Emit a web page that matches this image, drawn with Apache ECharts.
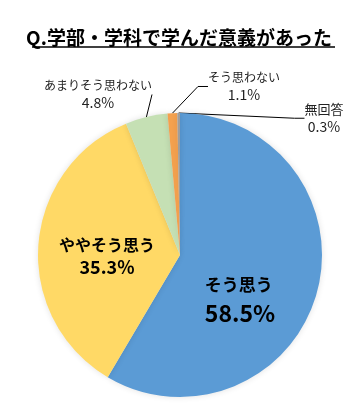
<!DOCTYPE html>
<html><head><meta charset="utf-8">
<script src="https://cdn.jsdelivr.net/npm/echarts@6/dist/echarts.min.js"></script>
<style>html,body{margin:0;padding:0;background:#fff}#c{width:358px;height:407px}</style>
</head><body><div id="c"></div>
<script>
const titleText = 'Q.学部・学科で学んだ意義があった';
const categories = ['そう思う', 'ややそう思う', 'あまりそう思わない', 'そう思わない', '無回答'];
const values = [58.5, 35.3, 4.8, 1.1, 0.3];
const colors = ['#5B9BD5', '#FFD966', '#C5E0B4', '#F4A14E', '#9E9E9E'];

const FONT = '"Noto Sans CJK JP", "Noto Sans", sans-serif';
// label anchor positions (center of label block)
const labelPos = [[240, 299], [107, 256], [98, 94], [244, 86], [324, 118]];

const chart = echarts.init(document.getElementById('c'), null, {renderer: 'canvas'});
const data = categories.map((n, i) => {
  const inside = i < 2;
  return {
    name: n, value: values[i],
    itemStyle: {color: colors[i]},
    label: inside ? {
      formatter: p => '{n|' + p.name + '}\n{v|' + p.value.toFixed(1) + '%}',
      rich: i === 0 ? {
        n: {fontSize: 17, fontWeight: 'bold', color: '#000', fontFamily: FONT, lineHeight: 29, align: 'left'},
        v: {fontSize: 23, fontWeight: 'bold', color: '#000', fontFamily: FONT, lineHeight: 29, align: 'left'}
      } : {
        n: {fontSize: 16, fontWeight: 'bold', color: '#000', fontFamily: FONT, lineHeight: 23},
        v: {fontSize: 18, fontWeight: 'bold', color: '#000', fontFamily: FONT, lineHeight: 23}
      }
    } : {
      formatter: p => '{n|' + p.name + '}\n{v|' + p.value.toFixed(1) + '%}',
      rich: {
        n: {fontSize: i === 4 ? 13 : 12, color: '#222', fontFamily: FONT, lineHeight: 18},
        v: {fontSize: 14, color: '#222', fontFamily: FONT, lineHeight: 18}
      }
    },
    labelLine: {show: !inside, lineStyle: {color: '#000', width: 1}}
  };
});

chart.setOption({
  animation: false,
  title: {
    text: titleText, left: 'center', top: 23,
    textStyle: {fontSize: 19, fontWeight: 'bold', color: '#000', fontFamily: FONT}
  },
  graphic: [{
    type: 'line', shape: {x1: 32, y1: 47, x2: 335, y2: 47},
    style: {stroke: '#000', lineWidth: 1.5}
  }],
  series: [{
    type: 'pie',
    center: [180, 255],
    radius: 142,
    startAngle: 90,
    clockwise: true,
    avoidLabelOverlap: false,
    itemStyle: {borderWidth: 0, shadowBlur: 6, shadowColor: 'rgba(0,0,0,0.12)'},
    label: {show: true, position: 'outside'},
    labelLine: {show: true, length: 10, length2: 10},
    labelLayout: function (p) {
      const pos = labelPos[p.dataIndex];
      return {x: pos[0], y: pos[1], align: 'center', verticalAlign: 'middle'};
    },
    data: data
  }]
});
</script></body></html>
